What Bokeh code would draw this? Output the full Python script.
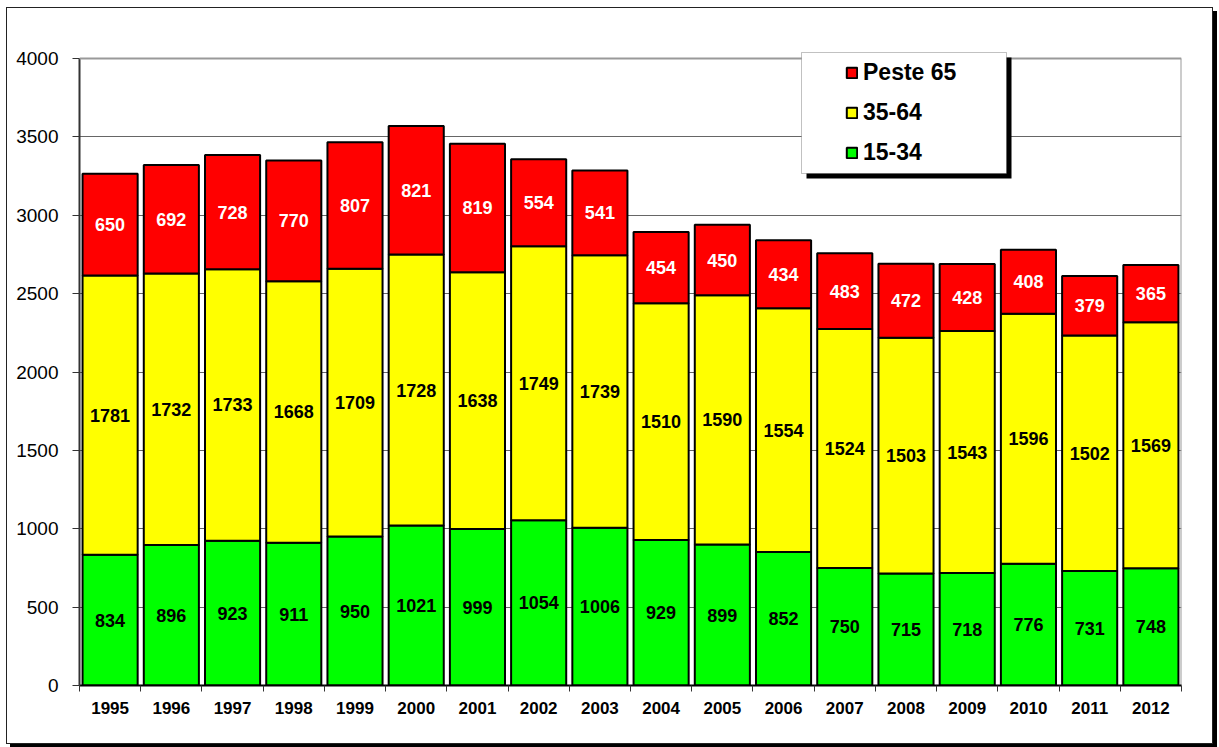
from bokeh.plotting import figure
from bokeh.models import (ColumnDataSource, FixedTicker, Range1d, Legend, LegendItem,
                          BoxAnnotation, Span)
from bokeh.core.properties import value
from bokeh.embed import file_html
from bokeh.resources import INLINE

years = ["1995", "1996", "1997", "1998", "1999", "2000", "2001", "2002", "2003",
         "2004", "2005", "2006", "2007", "2008", "2009", "2010", "2011", "2012"]
age_15_34 = [834, 896, 923, 911, 950, 1021, 999, 1054, 1006, 929, 899, 852, 750, 715, 718, 776, 731, 748]
age_35_64 = [1781, 1732, 1733, 1668, 1709, 1728, 1638, 1749, 1739, 1510, 1590, 1554, 1524, 1503, 1543, 1596, 1502, 1569]
age_65 = [650, 692, 728, 770, 807, 821, 819, 554, 541, 454, 450, 434, 483, 472, 428, 408, 379, 365]
series_names = ["15-34", "35-64", "Peste 65"]
series_colors = ["#00FF00", "#FFFF00", "#FF0000"]
label_colors = ["black", "black", "white"]
y_ticks = [0, 500, 1000, 1500, 2000, 2500, 3000, 3500, 4000]
y_max = 4000

FONT = "Liberation Sans"
n = len(years)
xs = [i + 0.5 for i in range(n)]

# plot area: 0..4000 spans 627px; frame extended 13px above 4000 to hold the legend box
PLOT_H = 627
EXTRA = 13
y_end = y_max * (PLOT_H + EXTRA) / PLOT_H

W, H = 1207, 737
p = figure(width=W, height=H, x_range=Range1d(0, n), y_range=Range1d(0, y_end),
           output_backend="svg", toolbar_location=None,
           min_border_left=72, min_border_right=33, min_border_top=50 - EXTRA, min_border_bottom=60)
p.styles = {"margin-left": "6px", "margin-top": "7px", "border": "1px solid #222222",
            "box-shadow": "4px 4px 0px #000000"}
p.background_fill_color = "white"
p.border_fill_color = "white"
p.outline_line_color = None

renderers = []
bottoms = [0] * n
for vals, name, col, lcol in zip([age_15_34, age_35_64, age_65], series_names, series_colors, label_colors):
    tops = [b + v for b, v in zip(bottoms, vals)]
    mids = [b + v / 2 for b, v in zip(bottoms, vals)]
    src = ColumnDataSource(dict(x=xs, bottom=bottoms, top=tops, mid=mids,
                                txt=[str(v) for v in vals]))
    r = p.vbar(x="x", width=0.9, bottom="bottom", top="top", source=src,
               fill_color=col, line_color="black", line_width=2)
    p.text(x="x", y="mid", text="txt", source=src, text_align="center", text_baseline="middle",
           text_font=value(FONT), text_font_style="bold", text_font_size="18px", text_color=lcol)
    renderers.append(r)
    bottoms = tops

# plot-area border (top at 4000 and right side)
p.add_layout(Span(location=y_max, dimension="width", line_color="#999999", line_width=2))
p.segment(x0=[n], y0=[0], x1=[n], y1=[y_max], line_color="#999999", line_width=2)

# axes
p.xgrid.visible = False
p.ygrid.grid_line_color = "#666666"
p.ygrid.grid_line_width = 1
p.ygrid.ticker = FixedTicker(ticks=y_ticks[:-1])

p.xaxis.ticker = FixedTicker(ticks=xs, minor_ticks=list(range(n + 1)))
p.xaxis.major_label_overrides = {x: y for x, y in zip(xs, years)}
p.xaxis.major_tick_out = 0
p.xaxis.major_tick_in = 0
p.xaxis.minor_tick_out = 6
p.xaxis.minor_tick_in = 0
p.xaxis.minor_tick_line_color = "#333333"
p.xaxis.axis_line_color = "black"
p.xaxis.axis_line_width = 2
p.xaxis.major_label_standoff = 10
p.xaxis.major_label_text_font = FONT
p.xaxis.major_label_text_font_style = "bold"
p.xaxis.major_label_text_font_size = "17px"
p.xaxis.major_label_text_color = "black"

p.yaxis.ticker = FixedTicker(ticks=y_ticks)
p.yaxis.bounds = (0, y_max)
p.yaxis.minor_tick_line_color = None
p.yaxis.major_tick_out = 7
p.yaxis.major_tick_in = 0
p.yaxis.major_tick_line_color = "#333333"
p.yaxis.axis_line_color = "#333333"
p.yaxis.axis_line_width = 2
p.yaxis.major_label_standoff = 14
p.yaxis.major_label_text_font = FONT
p.yaxis.major_label_text_font_size = "19px"
p.yaxis.major_label_text_color = "black"

# legend box with shadow (canvas units)
cu = dict(left_units="canvas", right_units="canvas", top_units="canvas", bottom_units="canvas")
p.add_layout(BoxAnnotation(left=798, right=1003, top=48, bottom=169, fill_color="black",
                           fill_alpha=1, line_alpha=0, **cu))
p.add_layout(BoxAnnotation(left=793, right=998, top=43, bottom=164, fill_color="white",
                           fill_alpha=1, line_color="#333333", line_width=1, **cu))

legend = Legend(items=[LegendItem(label=series_names[2], renderers=[renderers[2]]),
                       LegendItem(label=series_names[1], renderers=[renderers[1]]),
                       LegendItem(label=series_names[0], renderers=[renderers[0]])],
                location=(766, 519), padding=0, margin=0,
                border_line_alpha=0, background_fill_alpha=0,
                glyph_width=13, glyph_height=13, label_standoff=5,
                label_height=27, spacing=13,
                label_text_font=FONT, label_text_font_style="bold",
                label_text_font_size="23px", label_text_color="black")
p.add_layout(legend)

open("out.html", "w").write(file_html(p, INLINE))
